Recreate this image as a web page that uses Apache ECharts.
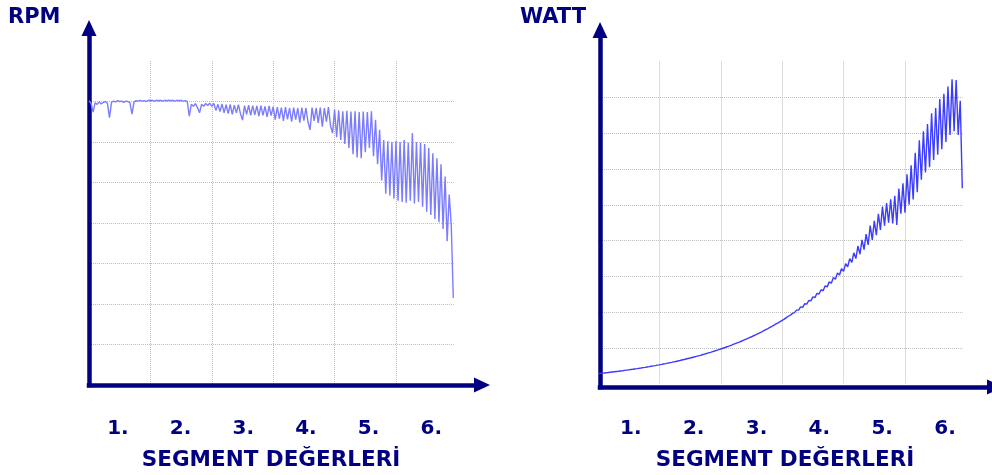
<!DOCTYPE html>
<html>
<head>
<meta charset="utf-8">
<script src="https://cdn.jsdelivr.net/npm/echarts@6/dist/echarts.min.js"></script>
<style>
html,body{margin:0;padding:0;background:#fff;}
#c{width:992px;height:475px;}
</style>
</head>
<body>
<div id="c"></div>
<script>
// ---- data (grid units: x = segment position, y = grid divisions) ----
const sampleStep = 1 / 30;
const segmentLabels = ['1.', '2.', '3.', '4.', '5.', '6.'];
const leftTitle = 'RPM';
const rightTitle = 'WATT';
const axisTitle = 'SEGMENT DEĞERLERİ';

const rpmValues = [
  7.02,6.95,6.74,6.97,6.93,6.99,6.94,6.98,7.00,6.96,
  6.60,6.98,7.01,6.99,7.02,7.00,7.01,6.98,7.01,7.00,
  6.97,6.69,6.99,7.02,7.01,7.03,7.01,7.02,7.00,7.03,
  7.02,7.03,7.01,7.03,7.02,7.03,7.01,7.03,7.02,7.03,
  7.02,7.03,7.01,7.03,7.02,7.03,7.01,7.02,7.00,6.64,
  6.93,6.88,6.95,6.85,6.72,6.93,6.88,6.95,6.90,6.96,
  6.88,6.95,6.78,6.93,6.75,6.94,6.72,6.92,6.70,6.93,
  6.68,6.91,6.72,6.92,6.70,6.54,6.90,6.68,6.91,6.66,
  6.90,6.67,6.89,6.64,6.90,6.66,6.88,6.62,6.89,6.65,
  6.87,6.55,6.86,6.58,6.85,6.52,6.86,6.56,6.84,6.50,
  6.85,6.55,6.84,6.48,6.85,6.53,6.84,6.50,6.30,6.85,
  6.52,6.84,6.47,6.85,6.38,6.84,6.50,6.86,6.40,6.22,
  6.80,6.12,6.78,6.05,6.76,5.95,6.77,5.85,6.75,5.70,
  6.76,5.62,6.74,5.60,6.75,5.75,6.74,5.85,6.76,5.65,
  6.55,5.45,6.30,5.05,6.05,4.72,6.02,4.68,6.00,4.60,
  6.03,4.55,6.00,4.52,6.05,4.50,5.98,4.55,6.22,4.48,
  6.00,4.52,5.98,4.40,5.95,4.28,5.85,4.20,5.72,4.10,
  5.60,4.02,5.45,3.85,5.15,3.55,4.70,3.95,2.15
];

const wattValues = [
  0.290,0.296,0.302,0.308,0.315,0.321,0.328,0.335,0.342,0.349,
  0.356,0.364,0.371,0.379,0.387,0.395,0.403,0.411,0.420,0.428,
  0.437,0.446,0.456,0.465,0.475,0.484,0.494,0.504,0.514,0.525,
  0.535,0.546,0.558,0.569,0.581,0.592,0.604,0.617,0.629,0.642,
  0.655,0.669,0.682,0.696,0.710,0.724,0.739,0.754,0.769,0.785,
  0.800,0.817,0.834,0.850,0.867,0.884,0.903,0.921,0.940,0.958,
  0.977,0.998,1.018,1.039,1.059,1.080,1.103,1.125,1.148,1.170,
  1.193,1.218,1.243,1.268,1.293,1.318,1.346,1.373,1.401,1.428,
  1.456,1.486,1.517,1.547,1.578,1.608,1.641,1.675,1.708,1.742,
  1.775,1.81,1.85,1.89,1.92,1.97,1.99,2.06,2.06,2.15,
  2.14,2.24,2.23,2.33,2.32,2.43,2.41,2.53,2.51,2.63,
  2.60,2.74,2.71,2.85,2.81,2.97,2.92,3.10,3.04,3.22,
  3.14,3.36,3.27,3.50,3.39,3.66,3.50,3.85,3.62,4.02,
  3.75,4.18,3.88,4.42,4.02,4.55,4.15,4.75,4.30,4.95,
  4.42,5.05,4.50,5.15,4.48,5.25,4.44,5.45,4.75,5.60,
  4.78,5.85,5.00,6.10,5.15,6.45,5.35,6.80,5.70,7.05,
  5.90,7.25,6.05,7.55,6.25,7.70,6.40,7.95,6.55,8.10,
  6.75,8.30,6.95,8.50,7.05,8.48,6.95,7.90,5.46
];

const leftYMax = 8;
const rightYMax = 9;
const xMax = 5.94;

// ---- styling ----
const navy = '#000080';
const font = 'DejaVu Sans';
const gridLine = { show: true, showMinLine: false, showMaxLine: false,
  lineStyle: { color: '#bdbdbd', type: 'dotted', width: 1 } };

function toPoints(vals) { return vals.map((v, i) => [i * sampleStep, v]); }

function dataAxes(gi, yMax) {
  return {
    x: { type: 'value', gridIndex: gi, min: 0, max: xMax, interval: 1,
      axisLine: { show: false }, axisTick: { show: false }, axisLabel: { show: false },
      splitLine: gridLine },
    y: { type: 'value', gridIndex: gi, min: 0, max: yMax, interval: 1,
      axisLine: { show: false }, axisTick: { show: false }, axisLabel: { show: false },
      splitLine: gridLine }
  };
}
function arrowAxes(gi) {
  const line = { show: true, symbol: ['none', 'triangle'], symbolSize: [15, 16],
    lineStyle: { color: navy, width: 4.5, cap: 'square' } };
  return {
    x: { type: 'value', gridIndex: gi, min: 0, max: 1, axisLine: line,
      axisTick: { show: false }, axisLabel: { show: false }, splitLine: { show: false } },
    y: { type: 'value', gridIndex: gi, min: 0, max: 1, axisLine: line,
      axisTick: { show: false }, axisLabel: { show: false }, splitLine: { show: false } }
  };
}
function labelAxes(gi) {
  return {
    x: { type: 'category', gridIndex: gi, data: segmentLabels, boundaryGap: true,
      axisLine: { show: false }, axisTick: { show: false },
      axisLabel: { show: true, color: navy, fontFamily: font, fontWeight: 'bold', fontSize: 20, margin: 9 },
      splitLine: { show: false } },
    y: { type: 'value', gridIndex: gi, show: false }
  };
}

const dL = dataAxes(0, leftYMax), aL = arrowAxes(1), lL = labelAxes(2);
const dR = dataAxes(3, rightYMax), aR = arrowAxes(4), lR = labelAxes(5);

const titleStyle = { color: navy, fontFamily: font, fontWeight: 'bold', fontSize: 21 };
const nameStyle = { color: navy, fontFamily: font, fontWeight: 'bold', fontSize: 21.5 };

const option = {
  animation: false,
  backgroundColor: '#ffffff',
  title: [
    { text: leftTitle, left: 3, top: 2, textStyle: titleStyle },
    { text: rightTitle, left: 515, top: 2, textStyle: titleStyle },
    { text: axisTitle, left: 266, top: 444, textAlign: 'center', textStyle: nameStyle },
    { text: axisTitle, left: 780, top: 444, textAlign: 'center', textStyle: nameStyle }
  ],
  grid: [
    { left: 89, top: 61, width: 364.7, height: 324, outerBoundsMode: 'none' },
    { left: 89, top: 28, width: 393, height: 357, outerBoundsMode: 'none' },
    { left: 86.6, top: 400, width: 376, height: 10, outerBoundsMode: 'none' },
    { left: 598, top: 61.4, width: 364.7, height: 322.6, outerBoundsMode: 'none' },
    { left: 600, top: 30, width: 395, height: 357, outerBoundsMode: 'none' },
    { left: 599.4, top: 400, width: 377, height: 10, outerBoundsMode: 'none' }
  ],
  xAxis: [dL.x, aL.x, lL.x, dR.x, aR.x, lR.x],
  yAxis: [dL.y, aL.y, lL.y, dR.y, aR.y, lR.y],
  series: [
    { type: 'line', xAxisIndex: 0, yAxisIndex: 0, data: toPoints(rpmValues),
      showSymbol: false, symbol: 'none', lineStyle: { color: '#7c7cff', width: 1.4 } },
    { type: 'line', xAxisIndex: 3, yAxisIndex: 3, data: toPoints(wattValues),
      showSymbol: false, symbol: 'none', lineStyle: { color: '#3c3cff', width: 1.4 } }
  ]
};

const chart = echarts.init(document.getElementById('c'), null, { renderer: 'canvas' });
chart.setOption(option);
</script>
</body>
</html>
